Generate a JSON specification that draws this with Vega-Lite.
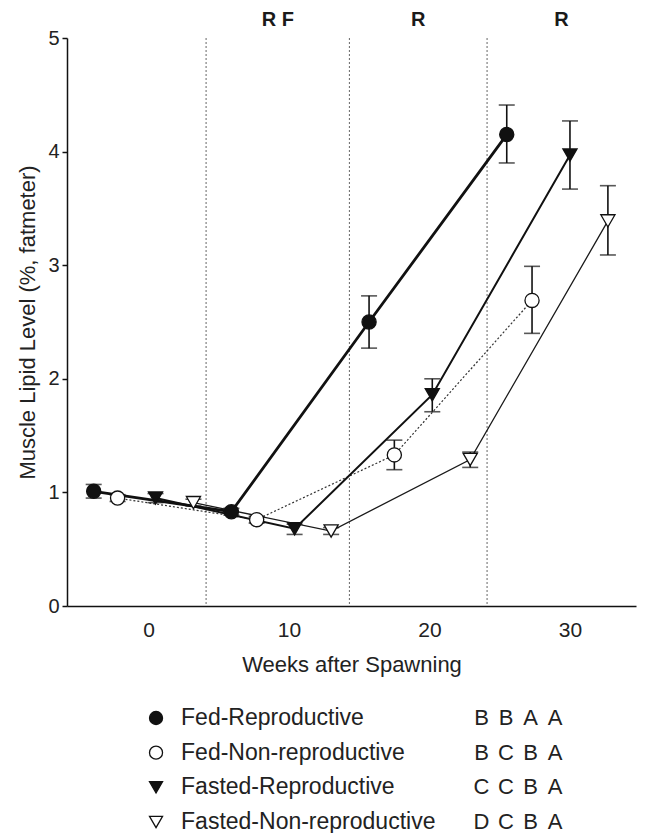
{
  "$schema": "https://vega.github.io/schema/vega-lite/v6.json",
  "padding": {"left": 16, "top": 9, "right": 5, "bottom": 0},
  "spacing": 32,
  "config": {"view": {"stroke": null}, "font": "Liberation Sans", "axis": {"grid": false}},
  "datasets": {
    "points": [
      {"group": "Fed-Reproductive", "week": -3.9, "value": 1.01, "lo": 0.95, "hi": 1.07},
      {"group": "Fed-Reproductive", "week": 5.9, "value": 0.83, "lo": 0.80, "hi": 0.86},
      {"group": "Fed-Reproductive", "week": 15.7, "value": 2.50, "lo": 2.27, "hi": 2.73},
      {"group": "Fed-Reproductive", "week": 25.5, "value": 4.15, "lo": 3.90, "hi": 4.41},
      {"group": "Fed-Non-reproductive", "week": -2.2, "value": 0.95, "lo": 0.92, "hi": 0.98},
      {"group": "Fed-Non-reproductive", "week": 7.7, "value": 0.76, "lo": 0.73, "hi": 0.79},
      {"group": "Fed-Non-reproductive", "week": 17.5, "value": 1.33, "lo": 1.20, "hi": 1.46},
      {"group": "Fed-Non-reproductive", "week": 27.3, "value": 2.69, "lo": 2.40, "hi": 2.99},
      {"group": "Fasted-Reproductive", "week": 0.5, "value": 0.95, "lo": 0.91, "hi": 0.99},
      {"group": "Fasted-Reproductive", "week": 10.4, "value": 0.68, "lo": 0.63, "hi": 0.72},
      {"group": "Fasted-Reproductive", "week": 20.2, "value": 1.86, "lo": 1.71, "hi": 2.00},
      {"group": "Fasted-Reproductive", "week": 30.0, "value": 3.97, "lo": 3.67, "hi": 4.27},
      {"group": "Fasted-Non-reproductive", "week": 3.2, "value": 0.91, "lo": 0.88, "hi": 0.94},
      {"group": "Fasted-Non-reproductive", "week": 13.0, "value": 0.66, "lo": 0.63, "hi": 0.69},
      {"group": "Fasted-Non-reproductive", "week": 22.9, "value": 1.29, "lo": 1.22, "hi": 1.355},
      {"group": "Fasted-Non-reproductive", "week": 32.7, "value": 3.39, "lo": 3.09, "hi": 3.70}
    ],
    "phases": [{"week": 4.1}, {"week": 14.3}, {"week": 24.1}],
    "phaseLabels": [
      {"week": 9.2, "label": "R F"},
      {"week": 19.2, "label": "R"},
      {"week": 29.4, "label": "R"}
    ],
    "legend": [
      {"group": "Fed-Reproductive"},
      {"group": "Fed-Non-reproductive"},
      {"group": "Fasted-Reproductive"},
      {"group": "Fasted-Non-reproductive"}
    ],
    "letters": [
      {"group": "Fed-Reproductive", "col": 1, "letter": "B"},
      {"group": "Fed-Reproductive", "col": 2, "letter": "B"},
      {"group": "Fed-Reproductive", "col": 3, "letter": "A"},
      {"group": "Fed-Reproductive", "col": 4, "letter": "A"},
      {"group": "Fed-Non-reproductive", "col": 1, "letter": "B"},
      {"group": "Fed-Non-reproductive", "col": 2, "letter": "C"},
      {"group": "Fed-Non-reproductive", "col": 3, "letter": "B"},
      {"group": "Fed-Non-reproductive", "col": 4, "letter": "A"},
      {"group": "Fasted-Reproductive", "col": 1, "letter": "C"},
      {"group": "Fasted-Reproductive", "col": 2, "letter": "C"},
      {"group": "Fasted-Reproductive", "col": 3, "letter": "B"},
      {"group": "Fasted-Reproductive", "col": 4, "letter": "A"},
      {"group": "Fasted-Non-reproductive", "col": 1, "letter": "D"},
      {"group": "Fasted-Non-reproductive", "col": 2, "letter": "C"},
      {"group": "Fasted-Non-reproductive", "col": 3, "letter": "B"},
      {"group": "Fasted-Non-reproductive", "col": 4, "letter": "A"}
    ]
  },
  "vconcat": [
    {
      "width": 569,
      "height": 568,
      "encoding": {
        "x": {
          "field": "week", "type": "quantitative",
          "scale": {"domain": [-5.8, 34.7], "nice": false, "zero": false},
          "axis": {
            "title": "Weeks after Spawning", "values": [0, 10, 20, 30], "ticks": false, "format": "d",
            "labelPadding": 13, "labelFontSize": 21, "labelColor": "#222",
            "titleFontSize": 22, "titleFontWeight": "normal", "titleColor": "#222", "titlePadding": 14,
            "domainColor": "#111", "domainWidth": 1.5
          }
        }
      },
      "layer": [
        {
          "data": {"name": "phases"},
          "mark": {"type": "rule", "strokeDash": [2, 2], "color": "#666", "strokeWidth": 1}
        },
        {
          "data": {"name": "phaseLabels"},
          "mark": {"type": "text", "fontSize": 20, "fontWeight": "bold", "color": "#1a1a1a"},
          "encoding": {"y": {"datum": 5.16, "type": "quantitative"}, "text": {"field": "label"}}
        },
        {
          "data": {"name": "points"},
          "transform": [{"filter": "datum.group === 'Fed-Non-reproductive'"}],
          "mark": {"type": "line", "strokeDash": [2, 2], "strokeWidth": 1.2, "color": "#333"},
          "encoding": {"y": {"field": "value", "type": "quantitative"}}
        },
        {
          "data": {"name": "points"},
          "transform": [{"filter": "datum.group === 'Fasted-Non-reproductive'"}],
          "mark": {"type": "line", "strokeWidth": 1.3, "color": "#1a1a1a"},
          "encoding": {"y": {"field": "value", "type": "quantitative"}}
        },
        {
          "data": {"name": "points"},
          "transform": [{"filter": "datum.group === 'Fasted-Reproductive'"}],
          "mark": {"type": "line", "strokeWidth": 2, "color": "#111"},
          "encoding": {"y": {"field": "value", "type": "quantitative"}}
        },
        {
          "data": {"name": "points"},
          "transform": [{"filter": "datum.group === 'Fed-Reproductive'"}],
          "mark": {"type": "line", "strokeWidth": 2.8, "color": "#111"},
          "encoding": {"y": {"field": "value", "type": "quantitative"}}
        },
        {
          "data": {"name": "points"},
          "mark": {"type": "rule", "strokeWidth": 1.6, "color": "#111"},
          "encoding": {
            "y": {"field": "lo", "type": "quantitative"},
            "y2": {"field": "hi"}
          }
        },
        {
          "data": {"name": "points"},
          "mark": {"type": "tick", "orient": "horizontal", "size": 16, "thickness": 1.6, "color": "#111"},
          "encoding": {"y": {"field": "lo", "type": "quantitative"}}
        },
        {
          "data": {"name": "points"},
          "mark": {"type": "tick", "orient": "horizontal", "size": 16, "thickness": 1.6, "color": "#111"},
          "encoding": {"y": {"field": "hi", "type": "quantitative"}}
        },
        {
          "data": {"name": "points"},
          "mark": {"type": "point", "filled": true, "stroke": "#111", "strokeWidth": 1.3, "size": 200, "opacity": 1},
          "encoding": {
            "y": {
              "field": "value", "type": "quantitative",
              "scale": {"domain": [0, 5], "nice": false},
              "axis": {
                "title": "Muscle Lipid Level (%, fatmeter)", "values": [0, 1, 2, 3, 4, 5], "format": "d",
                "tickSize": 5, "tickColor": "#111", "tickWidth": 1.5,
                "labelPadding": 3, "labelFontSize": 20, "labelColor": "#222",
                "titleFontSize": 22, "titleFontWeight": "normal", "titleColor": "#222", "titlePadding": 8,
                "domainColor": "#111", "domainWidth": 1.5
              }
            },
            "shape": {
              "field": "group", "type": "nominal",
              "scale": {
                "domain": ["Fed-Reproductive", "Fed-Non-reproductive", "Fasted-Reproductive", "Fasted-Non-reproductive"],
                "range": ["circle", "circle", "triangle-down", "triangle-down"]
              },
              "legend": null
            },
            "fill": {
              "field": "group", "type": "nominal",
              "scale": {
                "domain": ["Fed-Reproductive", "Fed-Non-reproductive", "Fasted-Reproductive", "Fasted-Non-reproductive"],
                "range": ["#111111", "#ffffff", "#111111", "#ffffff"]
              },
              "legend": null
            }
          }
        }
      ]
    },
    {
      "width": 569,
      "height": 104,
      "encoding": {
        "y": {
          "field": "group", "type": "nominal",
          "sort": ["Fed-Reproductive", "Fed-Non-reproductive", "Fasted-Reproductive", "Fasted-Non-reproductive"],
          "scale": {"type": "point", "padding": 0},
          "axis": null
        }
      },
      "layer": [
        {
          "data": {"name": "legend"},
          "mark": {"type": "point", "filled": true, "stroke": "#111", "strokeWidth": 1.3, "size": 170, "opacity": 1},
          "encoding": {
            "x": {"datum": -12.27, "type": "quantitative", "scale": {"domain": [-15.9, 7.3], "nice": false, "zero": false}, "axis": null},
            "shape": {"field": "group", "type": "nominal", "legend": null},
            "fill": {"field": "group", "type": "nominal", "legend": null}
          }
        },
        {
          "data": {"name": "legend"},
          "mark": {"type": "text", "align": "left", "fontSize": 23, "color": "#222"},
          "encoding": {
            "x": {"datum": -11.25, "type": "quantitative"},
            "text": {"field": "group"}
          }
        },
        {
          "data": {"name": "letters"},
          "mark": {"type": "text", "align": "center", "fontSize": 22, "color": "#222"},
          "encoding": {
            "x": {"field": "col", "type": "quantitative"},
            "text": {"field": "letter"}
          }
        }
      ]
    }
  ]
}
